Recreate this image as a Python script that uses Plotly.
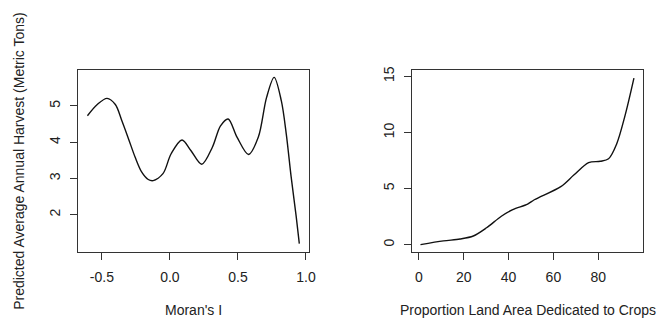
import plotly.graph_objects as go

# Left panel: Moran's I vs predicted harvest
moran_x = [-0.606, -0.534, -0.462, -0.401, -0.353, -0.304, -0.256, -0.208, -0.159,
           -0.123, -0.051, 0.009, 0.089, 0.154, 0.234, 0.312, 0.372, 0.428,
           0.493, 0.578, 0.650, 0.710, 0.766, 0.819, 0.855, 0.891, 0.928, 0.951]
moran_y = [4.73, 5.04, 5.21, 5.04, 4.59, 4.09, 3.59, 3.18, 2.97,
           2.94, 3.13, 3.68, 4.06, 3.77, 3.39, 3.86, 4.45, 4.64,
           4.14, 3.66, 4.14, 5.23, 5.79, 5.14, 4.23, 3.04, 1.95, 1.20]

# Right panel: proportion land area vs predicted harvest
land_x = [0.75, 11.0, 18.4, 24.3, 30.2, 36.8, 41.9, 48.5, 51.5, 63.3, 69.1,
          75.7, 80.9, 84.6, 88.2, 91.9, 95.9]
land_y = [0.0, 0.33, 0.50, 0.77, 1.50, 2.53, 3.12, 3.61, 4.0, 5.17, 6.2,
          7.31, 7.43, 7.66, 8.98, 11.48, 14.85]

left_xticks = [-0.5, 0.0, 0.5, 1.0]
left_xlabels = ["-0.5", "0.0", "0.5", "1.0"]
left_yticks = [2, 3, 4, 5]
right_xticks = [0, 20, 40, 60, 80]
right_yticks = [0, 5, 10, 15]

FONT = "Liberation Sans, Arial, Helvetica, sans-serif"
TXT = "#222222"

fig = go.Figure()
fig.add_trace(go.Scatter(x=moran_x, y=moran_y, mode="lines",
                         line=dict(color="#111111", width=1.4, shape="spline", smoothing=0.9),
                         xaxis="x", yaxis="y", showlegend=False))
fig.add_trace(go.Scatter(x=land_x, y=land_y, mode="lines",
                         line=dict(color="#111111", width=1.4, shape="spline", smoothing=0.9),
                         xaxis="x2", yaxis="y2", showlegend=False))

W, H = 662, 320
ax_common = dict(showline=True, mirror=True, linecolor="#333333", linewidth=1,
                 ticks="outside", ticklen=7, tickcolor="#333333", tickwidth=1,
                 showgrid=False, zeroline=False,
                 tickfont=dict(family=FONT, size=14, color=TXT))

y0, y1 = (H - 250.7) / H, (H - 67.3) / H

fig.update_layout(
    width=W, height=H,
    margin=dict(l=0, r=0, t=0, b=0),
    paper_bgcolor="white", plot_bgcolor="white",
    xaxis=dict(domain=[79.3 / W, 312 / W], range=[-0.672, 1.02],
               tickvals=left_xticks, ticktext=left_xlabels, anchor="y",
               ticklabelstandoff=6, **ax_common),
    yaxis=dict(domain=[y0, y1], range=[0.98, 5.98], tickvals=left_yticks,
               tickangle=-90, anchor="x", ticklabelstandoff=5, **ax_common),
    xaxis2=dict(domain=[416.7 / W, 650 / W], range=[-2.9, 100],
                tickvals=right_xticks, anchor="y2", ticklabelstandoff=6, **ax_common),
    yaxis2=dict(domain=[y0, y1], range=[-0.62, 15.53], tickvals=right_yticks,
                tickangle=-90, anchor="x2", ticklabelstandoff=5, **ax_common),
    annotations=[
        dict(text="Moran's I", x=(79.3 + 312) / 2 / W, y=(H - 310) / H,
             xref="paper", yref="paper", showarrow=False,
             font=dict(family=FONT, size=14, color=TXT), xanchor="center", yanchor="middle"),
        dict(text="Proportion Land Area Dedicated to Crops", x=(416.7 + 650) / 2 / W,
             y=(H - 310) / H, xref="paper", yref="paper", showarrow=False,
             font=dict(family=FONT, size=14, color=TXT), xanchor="center", yanchor="middle"),
        dict(text="Predicted Average Annual Harvest (Metric Tons)", x=19 / W,
             y=(H - 159) / H, xref="paper", yref="paper", showarrow=False, textangle=-90,
             font=dict(family=FONT, size=14, color=TXT), xanchor="center", yanchor="middle"),
    ],
)

fig.write_html("out.html", config={"displayModeBar": False},
               post_script="document.body.style.margin='0';document.body.style.overflow='hidden';")
